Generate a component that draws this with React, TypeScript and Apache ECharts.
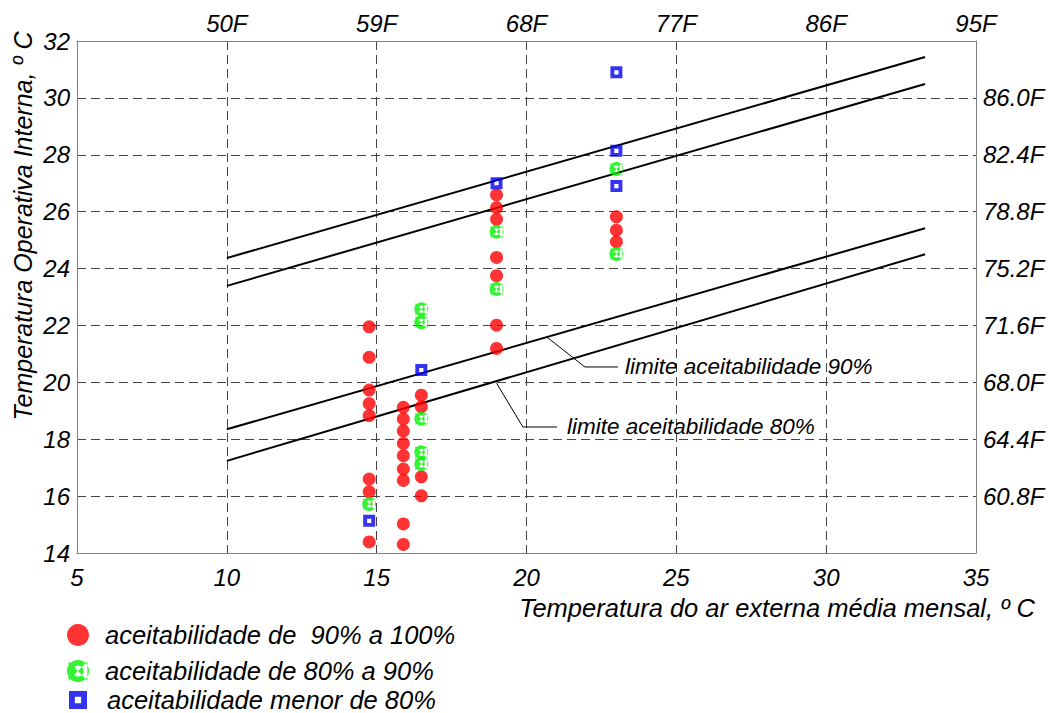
import React, { useEffect, useRef } from "react";
import * as echarts from "echarts";

// ---- data ----
const red90to100: [number, number][] = [
  [14.75, 21.95], [14.75, 20.88], [14.75, 19.73], [14.75, 19.25], [14.75, 18.83],
  [14.75, 16.6], [14.75, 16.15], [14.75, 14.39],
  [15.89, 19.12], [15.89, 18.71], [15.89, 18.29], [15.89, 17.85], [15.89, 17.42],
  [15.89, 16.95], [15.89, 16.55], [15.89, 15.02], [15.89, 14.3],
  [16.49, 19.55], [16.49, 19.14], [16.49, 16.68], [16.49, 16.01],
  [19.0, 26.59], [19.0, 26.14], [19.0, 25.73], [19.0, 24.39], [19.0, 23.75],
  [19.0, 22.01], [19.0, 21.19],
  [23.0, 25.82], [23.0, 25.35], [23.0, 24.94],
];
const green80to90: [number, number][] = [
  [14.75, 15.72],
  [16.49, 22.57], [16.49, 22.11], [16.49, 18.72], [16.49, 17.54], [16.49, 17.13],
  [19.0, 25.29], [19.0, 23.28],
  [23.0, 27.5], [23.0, 24.51],
];
const blueBelow80: [number, number][] = [
  [14.75, 15.13],
  [16.49, 20.43],
  [19.0, 27.0],
  [23.0, 30.9], [23.0, 28.14], [23.0, 26.9],
];

const upper80: [number, number][] = [[10, 24.37], [33.3, 31.44]];
const upper90: [number, number][] = [[10, 23.39], [33.3, 30.49]];
const lower90: [number, number][] = [[10, 18.35], [33.3, 25.42]];
const lower80: [number, number][] = [[10, 17.24], [33.3, 24.5]];

const leader90: [number, number][] = [[20.68, 21.59], [21.95, 20.54], [23.05, 20.54]];
const leader80: [number, number][] = [[19.0, 19.97], [19.88, 18.43], [21.02, 18.43]];
const leader90Text = "limite aceitabilidade 90%";
const leader80Text = "limite aceitabilidade 80%";

const topTickValues = [10, 15, 20, 25, 30, 35];
const topTickLabels = ["50F", "59F", "68F", "77F", "86F", "95F"];
const rightTickValues = [16, 18, 20, 22, 24, 26, 28, 30];
const rightTickLabels = ["60.8F", "64.4F", "68.0F", "71.6F", "75.2F", "78.8F", "82.4F", "86.0F"];

const seriesNames = [
  "aceitabilidade de  90% a 100%",
  "aceitabilidade de 80% a 90%",
  "aceitabilidade menor de 80%",
];
const yTitle = "Temperatura Operativa Interna, º C";
const xTitle = "Temperatura do ar externa média mensal, º C";

// ---- styles ----
const FONT = "'Liberation Sans', Arial, sans-serif";
const GREEN_ICON =
  "path://M10,0 A10,10 0 1,1 10,20 A10,10 0 1,1 10,0 Z M10,5 A5,5 0 1,0 10,15 A5,5 0 1,0 10,5 Z M1.5,1.2 L10,10 L1.5,18.8 Z M18.5,1.2 L10,10 L18.5,18.8 Z";
const BLUE_ICON = "path://M0,0 L20,0 L20,20 L0,20 Z M6.5,6.5 L6.5,13.5 L13.5,13.5 L13.5,6.5 Z";
const legendLayout = [
  { top: 622, left: 67, size: 22, pad: 11 },
  { top: 658, left: 67, size: 22, pad: 11 },
  { top: 687, left: 69, size: 18, pad: 15 },
];

export default function App() {
  const ref = useRef<HTMLDivElement>(null);
  useEffect(() => {
    if (!ref.current) return;
    const chart = echarts.init(ref.current, null, { renderer: "svg" });
    const axisLine = { show: true, lineStyle: { color: "#808080", width: 1 } };
    const split = { show: true, showMinLine: false, showMaxLine: false, lineStyle: { color: "#444", width: 1, type: [9, 5] as any } };
    const labelStyle = { fontFamily: FONT, fontStyle: "italic" as const, fontSize: 24, color: "#000" };
    const thick = { color: "#000", width: 2 };
    const leaderStyle = { color: "#000", width: 1 };
    const lineSeries = (d: [number, number][], ls: any, extra: any = {}) => ({
      type: "line", data: d, showSymbol: false, symbol: "none", silent: true,
      lineStyle: ls, z: 3, ...extra,
    });
    chart.setOption({
      animation: false,
      grid: { left: 77, right: 78, top: 41, bottom: 160, containLabel: false },
      legend: seriesNames.map((n, i) => ({
        orient: "horizontal", left: legendLayout[i].left, top: legendLayout[i].top, padding: 0,
        itemWidth: legendLayout[i].size, itemHeight: legendLayout[i].size,
        data: [n], selectedMode: false,
        textStyle: {
          fontFamily: FONT, fontStyle: "italic", fontSize: 25.5, lineHeight: legendLayout[i].size,
          color: "#000", padding: [0, 0, 0, legendLayout[i].pad],
        },
      })),
      xAxis: [
        {
          type: "value", position: "bottom", min: 5, max: 35, interval: 5,
          axisLine, axisTick: { show: false }, splitLine: split,
          axisLabel: { ...labelStyle, margin: 12 },
        },
        {
          type: "value", position: "top", min: 5, max: 35, interval: 5,
          axisLine, axisTick: { show: false }, splitLine: { show: false },
          axisLabel: {
            ...labelStyle, margin: 6,
            formatter: (v: number) => { const i = topTickValues.indexOf(v); return i >= 0 ? topTickLabels[i] : ""; },
          },
        },
      ],
      yAxis: [
        {
          type: "value", position: "left", min: 14, max: 32, interval: 2,
          axisLine, axisTick: { show: false }, splitLine: split,
          axisLabel: { ...labelStyle, margin: 7 },
        },
        {
          type: "value", position: "right", min: 14, max: 32, interval: 2,
          axisLine, axisTick: { show: false }, splitLine: { show: false },
          axisLabel: {
            ...labelStyle, margin: 7,
            formatter: (v: number) => { const i = rightTickValues.indexOf(v); return i >= 0 ? rightTickLabels[i] : ""; },
          },
        },
      ],
      graphic: [
        {
          type: "text", x: 23, y: 226, rotation: Math.PI / 2,
          style: { text: yTitle, fontFamily: FONT, fontStyle: "italic", fontSize: 25, fill: "#000", align: "center", verticalAlign: "middle" },
        },
        {
          type: "text", x: 1035, y: 608,
          style: { text: xTitle, fontFamily: FONT, fontStyle: "italic", fontSize: 25.5, fill: "#000", align: "right", verticalAlign: "middle" },
        },
      ],
      series: [
        lineSeries(upper80, thick),
        lineSeries(upper90, thick),
        lineSeries(lower90, thick),
        lineSeries(lower80, thick),
        lineSeries(leader90, leaderStyle, {
          endLabel: { show: true, formatter: leader90Text, distance: 7, fontFamily: FONT, fontStyle: "italic", fontSize: 22.5, color: "#000" },
        }),
        lineSeries(leader80, leaderStyle, {
          endLabel: { show: true, formatter: leader80Text, distance: 10, fontFamily: FONT, fontStyle: "italic", fontSize: 22.5, color: "#000" },
        }),
        {
          name: seriesNames[0], type: "scatter", data: red90to100, symbol: "circle", symbolSize: 13,
          itemStyle: { color: "#ff0000" }, z: 5,
        },
        {
          name: seriesNames[1], type: "scatter", data: green80to90, symbol: GREEN_ICON, symbolSize: 14,
          itemStyle: { color: "#00f000" }, z: 5,
        },
        {
          name: seriesNames[2], type: "scatter", data: blueBelow80, symbol: BLUE_ICON, symbolSize: 12,
          itemStyle: { color: "#0000ee" }, z: 6,
        },
      ],
    });
    return () => chart.dispose();
  }, []);
  return <div ref={ref} style={{ position: "absolute", left: 0, top: 0, width: 1054, height: 713 }} />;
}
